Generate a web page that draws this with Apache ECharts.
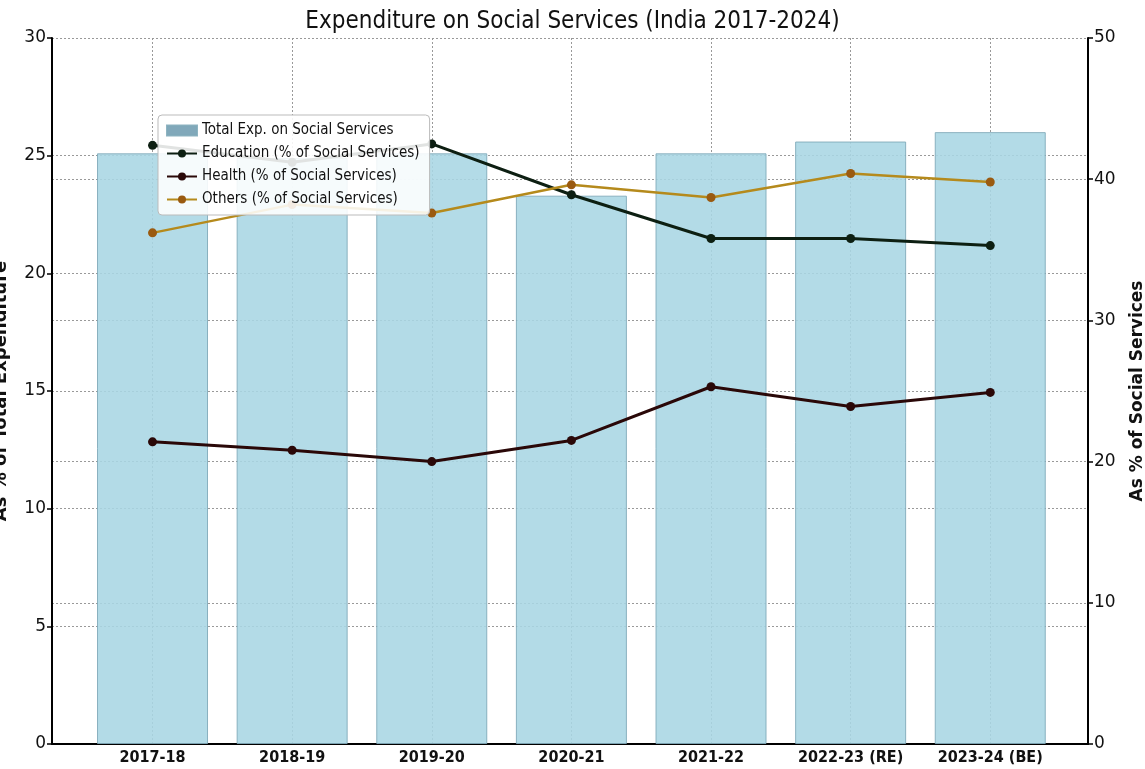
<!DOCTYPE html>
<html>
<head>
<meta charset="utf-8">
<script src="https://cdn.jsdelivr.net/npm/echarts@6/dist/echarts.min.js"></script>
<style>
  html, body { margin: 0; padding: 0; background: #fff; }
  #main { width: 1145px; height: 769px; }
</style>
</head>
<body>
<div id="main"></div>
<script>
// data
var years = ['2017-18', '2018-19', '2019-20', '2020-21', '2021-22', '2022-23 (RE)', '2023-24 (BE)'];
var totalExp = [25.1, 24.9, 25.1, 23.3, 25.1, 25.6, 26.0];      // % of total expenditure
var education = [42.4, 41.2, 42.5, 38.9, 35.8, 35.8, 35.3];     // % of social services
var health = [21.4, 20.8, 20.0, 21.5, 25.3, 23.9, 24.9];
var others = [36.2, 38.2, 37.6, 39.6, 38.7, 40.4, 39.8];

function pairs(arr) {
    return arr.map(function (v, i) { return [i, v]; });
}

var font = 'DejaVu Sans';
var cond = 'DejaVu Sans Condensed';
var myChart = echarts.init(document.getElementById('main'));

myChart.setOption({
    backgroundColor: '#fff',
    animation: false,
    title: {
        text: 'Expenditure on Social Services (India 2017-2024)',
        left: 'center',
        top: 5,
        textStyle: { fontFamily: cond, fontSize: 24, fontWeight: 'normal', color: '#111' }
    },
    legend: {
        orient: 'vertical',
        left: 158,
        top: 115,
        itemWidth: 30,
        itemHeight: 10,
        itemGap: 8,
        padding: [8, 10, 8, 8],
        backgroundColor: 'rgba(255,255,255,0.88)',
        borderColor: '#bbb',
        borderWidth: 1,
        borderRadius: 4,
        textStyle: { fontFamily: cond, fontSize: 15, color: '#111' },
        data: [
            { name: 'Total Exp. on Social Services', icon: 'rect', itemStyle: { color: '#6f9cb0' } },
            'Education (% of Social Services)',
            'Health (% of Social Services)',
            'Others (% of Social Services)'
        ]
    },
    grid: { left: 52, right: 57, top: 38, bottom: 25, containLabel: false, outerBoundsMode: 'none' },
    xAxis: {
        type: 'value',
        min: -0.72,
        max: 6.7,
        minInterval: 1,
        maxInterval: 1,
        axisLine: { show: true, onZero: false, lineStyle: { color: '#000', width: 2 } },
        axisTick: { show: false },
        axisLabel: {
            fontFamily: cond,
            fontWeight: 'bold',
            fontSize: 16,
            color: '#111',
            margin: 6,
            showMinLabel: false,
            showMaxLabel: false,
            formatter: function (v) {
                var i = Math.round(v);
                return Math.abs(v - i) < 1e-6 && years[i] ? years[i] : '';
            }
        },
        splitLine: { show: true, lineStyle: { color: '#999', type: [2, 2], width: 1 } }
    },
    yAxis: [
        {
            type: 'value',
            min: 0,
            max: 30,
            interval: 5,
            // the reference shows this title mostly cut off at the left edge
            name: 'As % of Total Expenditure',
            nameLocation: 'middle',
            nameGap: 42,
            nameTextStyle: { fontFamily: font, fontSize: 18, fontWeight: 'bold', color: '#111' },
            axisLine: { show: true, onZero: false, lineStyle: { color: '#000', width: 2 } },
            axisTick: { show: true, length: 5, lineStyle: { color: '#000', width: 1.5 } },
            axisLabel: { fontFamily: font, fontSize: 17, color: '#111', margin: 6 },
            splitLine: { show: true, lineStyle: { color: '#999', type: [2, 2], width: 1 } }
        },
        {
            type: 'value',
            min: 0,
            max: 50,
            interval: 10,
            position: 'right',
            name: 'As % of Social Services',
            nameLocation: 'middle',
            nameGap: 41,
            nameRotate: 90,
            nameTextStyle: { fontFamily: font, fontSize: 17, fontWeight: 'bold', color: '#111' },
            axisLine: { show: true, onZero: false, lineStyle: { color: '#000', width: 2 } },
            axisTick: { show: true, length: 5, lineStyle: { color: '#000', width: 1.5 } },
            axisLabel: { fontFamily: font, fontSize: 17, color: '#111', margin: 6 },
            splitLine: { show: true, lineStyle: { color: '#999', type: [2, 2], width: 1 } }
        }
    ],
    series: [
        {
            name: 'Total Exp. on Social Services',
            type: 'bar',
            yAxisIndex: 0,
            barWidth: 111,
            data: pairs(totalExp),
            itemStyle: { color: '#a8d6e4', opacity: 0.88, borderColor: '#7ea8b8', borderWidth: 1 },
            z: 1
        },
        {
            name: 'Education (% of Social Services)',
            type: 'line',
            yAxisIndex: 1,
            data: pairs(education),
            symbol: 'circle',
            symbolSize: 9,
            lineStyle: { color: '#0d1f12', width: 3 },
            itemStyle: { color: '#0d1f12' },
            z: 3
        },
        {
            name: 'Health (% of Social Services)',
            type: 'line',
            yAxisIndex: 1,
            data: pairs(health),
            symbol: 'circle',
            symbolSize: 9,
            lineStyle: { color: '#2a0808', width: 3 },
            itemStyle: { color: '#2a0808' },
            z: 3
        },
        {
            name: 'Others (% of Social Services)',
            type: 'line',
            yAxisIndex: 1,
            data: pairs(others),
            symbol: 'circle',
            symbolSize: 9,
            lineStyle: { color: '#b58a1c', width: 2.5 },
            itemStyle: { color: '#9a5a10' },
            z: 3
        }
    ]
});
</script>
</body>
</html>
